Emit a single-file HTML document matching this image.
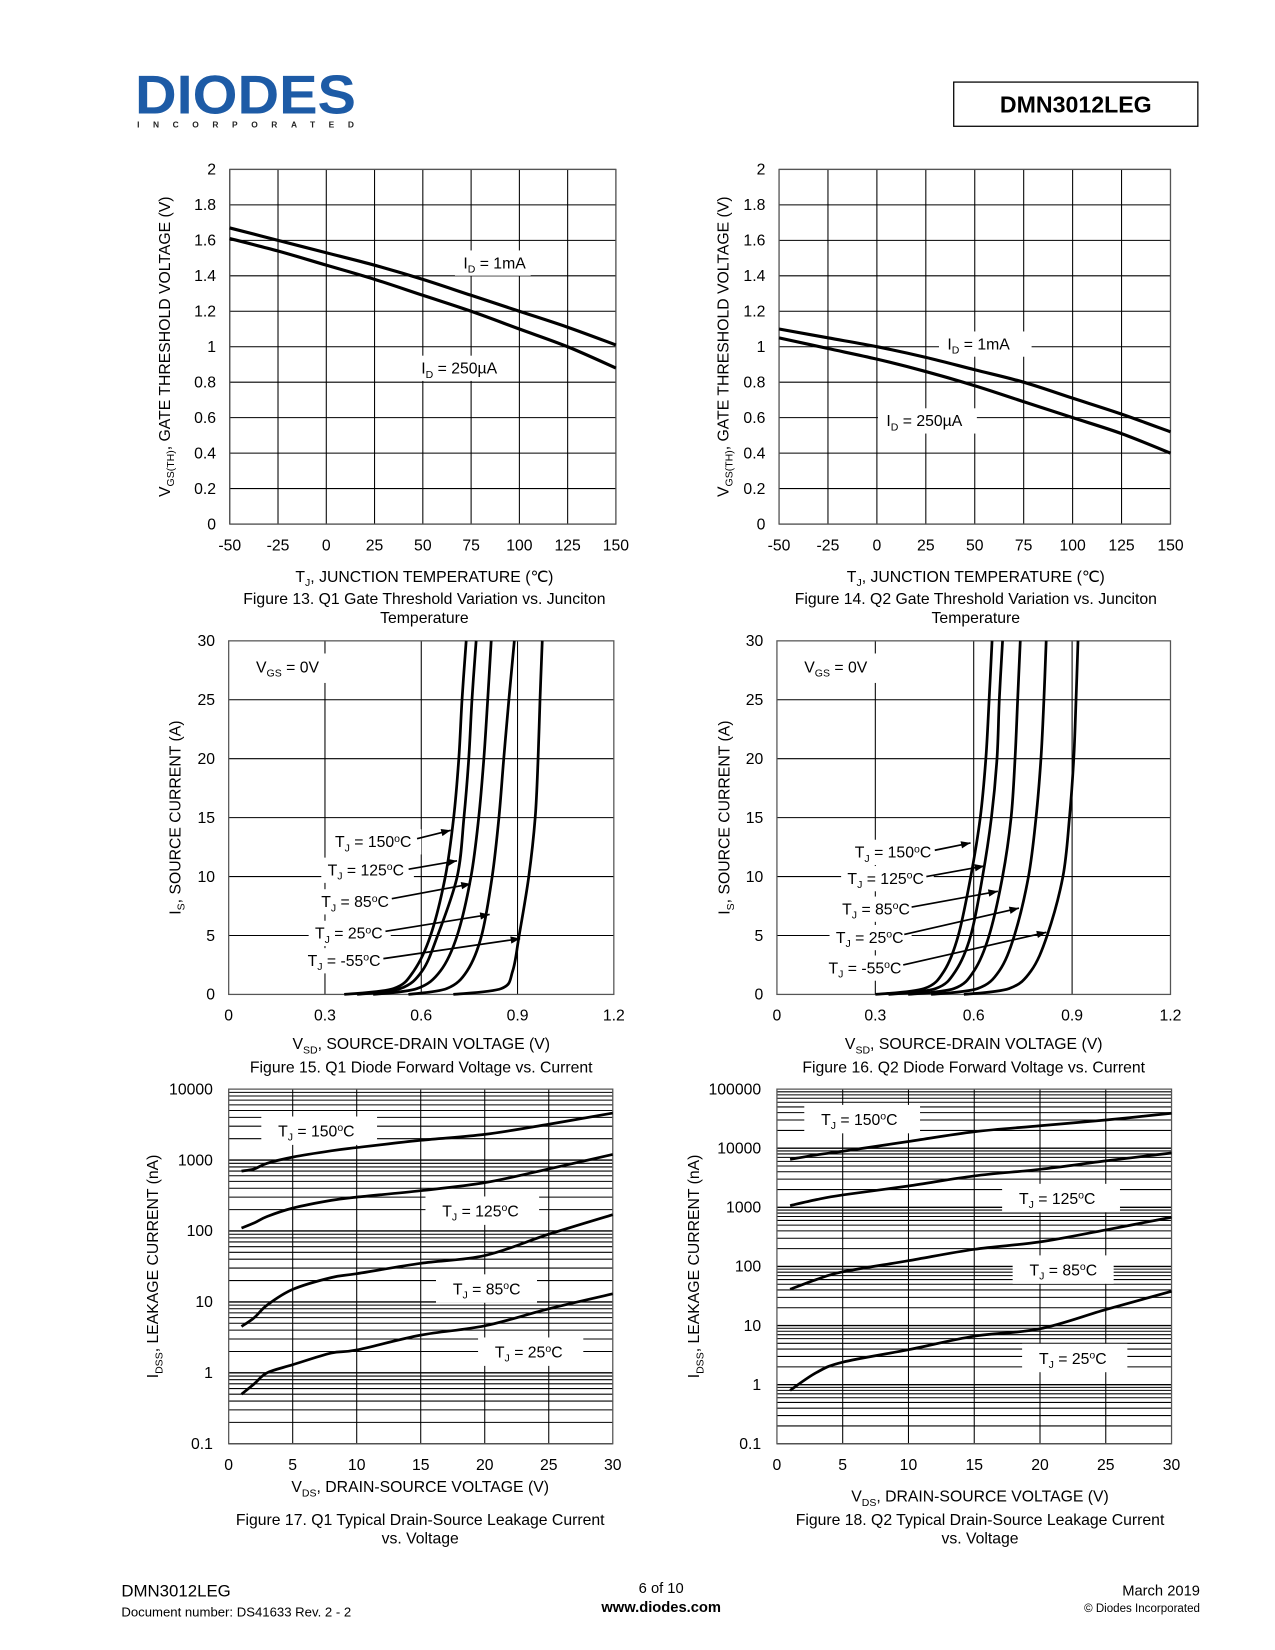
<!DOCTYPE html>
<html><head><meta charset="utf-8"><style>
html,body{margin:0;padding:0;background:#fff;}
svg{display:block;font-family:"Liberation Sans",Arial,sans-serif;}
</style></head><body>
<svg id="page" xmlns="http://www.w3.org/2000/svg" width="1275" height="1650" viewBox="0 0 1211 1568">
<rect x="0" y="0" width="1211" height="1568" fill="#fff"/>
<g>
<text x="128" y="108" font-size="52" font-weight="bold" fill="#1d5ba6" textLength="210" lengthAdjust="spacingAndGlyphs" font-family="Liberation Sans, sans-serif">DIODES</text>
<text x="130" y="121" font-size="8" font-weight="bold" fill="#222" textLength="206" lengthAdjust="spacing">INCORPORATED</text>
</g>
<g>
<rect x="906" y="78" width="232" height="42" fill="none" stroke="#000" stroke-width="1.2"/>
<text x="1022" y="107" font-size="22" font-weight="bold" text-anchor="middle">DMN3012LEG</text>
</g>
<g id="charts"></g>
<g font-size="16">
<text x="115" y="1517" font-size="16">DMN3012LEG</text>
<text x="115" y="1536" font-size="12.5">Document number: DS41633  Rev. 2 - 2</text>
<text x="628" y="1514" font-size="14" text-anchor="middle">6 of 10</text>
<text x="628" y="1532" font-size="14" font-weight="bold" text-anchor="middle">www.diodes.com</text>
<text x="1140" y="1516" font-size="14" text-anchor="end">March 2019</text>
<text x="1140" y="1532" font-size="11" text-anchor="end">© Diodes Incorporated</text>
</g>
</svg>
<script>
// ---- Figure 13 data ----
const fig13Temps = [-50,-25,0,25,50,75,100,125,150];
const fig13Vth1mA = [1.67,1.60,1.53,1.46,1.38,1.29,1.20,1.11,1.01];
const fig13Vth250uA = [1.61,1.54,1.46,1.38,1.29,1.20,1.10,1.00,0.88];
// ---- Figure 14 data ----
const fig14Temps = [-50,-25,0,25,50,75,100,125,150];
const fig14Vth1mA = [1.10,1.05,1.00,0.94,0.87,0.80,0.71,0.62,0.52];
const fig14Vth250uA = [1.05,0.99,0.93,0.86,0.78,0.69,0.60,0.51,0.40];
const tempTicks = [-50,-25,0,25,50,75,100,125,150];
const vthTicks = [0,0.2,0.4,0.6,0.8,1,1.2,1.4,1.6,1.8,2];
const vthTickLabels = ["0","0.2","0.4","0.6","0.8","1","1.2","1.4","1.6","1.8","2"];
// ---- Figure 15/16 data (V at given current levels) ----
const diodeCurrents = [0,0.5,2,5,10,15,20,25,30];
const fig15V150 = [0.36,0.514,0.577,0.629,0.675,0.701,0.717,0.727,0.74];
const fig15V125 = [0.40,0.535,0.603,0.651,0.712,0.733,0.748,0.758,0.771];
const fig15V85 = [0.45,0.587,0.66,0.712,0.755,0.779,0.795,0.807,0.818];
const fig15V25 = [0.56,0.68,0.743,0.788,0.821,0.842,0.857,0.873,0.89];
const fig15Vm55 = [0.70,0.85,0.885,0.905,0.935,0.955,0.964,0.97,0.977];
const fig16V150 = [0.30,0.449,0.51,0.553,0.591,0.62,0.637,0.647,0.656];
const fig16V125 = [0.34,0.484,0.545,0.591,0.627,0.654,0.671,0.678,0.688];
const fig16V85 = [0.40,0.54,0.601,0.647,0.688,0.714,0.726,0.734,0.742];
const fig16V25 = [0.47,0.612,0.678,0.724,0.767,0.79,0.805,0.814,0.821];
const fig16Vm55 = [0.57,0.708,0.775,0.824,0.872,0.892,0.905,0.912,0.918];
const vsdTicks = [0,0.3,0.6,0.9,1.2];
const vsdTickLabels = ["0","0.3","0.6","0.9","1.2"];
const isTicks = [0,5,10,15,20,25,30];
// ---- Figure 17/18 data ----
const fig17Vds = [1,2,3,5,8,10,15,20,25,30];
const fig17I150 = [700,750,900,1100,1350,1500,1900,2300,3200,4600];
const fig17I125 = [110,130,160,210,270,300,370,480,750,1200];
const fig17I85 = [4.5,6,9,15,22,25,35,45,90,170];
const fig17I25 = [0.5,0.7,1.0,1.3,1.9,2.1,3.4,4.6,8,13];
const fig18Vds = [1,3,5,10,15,20,25,30];
const fig18I150 = [6500,7700,8900,13000,19000,24000,30000,39000];
const fig18I125 = [1070,1350,1620,2300,3400,4400,6100,8300];
const fig18I85 = [41,60,81,125,195,260,415,680];
const fig18I25 = [0.8,1.6,2.4,3.9,6.6,8.8,18.6,38];
const vdsTicks = [0,5,10,15,20,25,30];
const fig17Decades = [0.1,1,10,100,1000,10000];
const fig17DecadeLabels = ["0.1","1","10","100","1000","10000"];
const fig18Decades = [0.1,1,10,100,1000,10000,100000];
const fig18DecadeLabels = ["0.1","1","10","100","1000","10000","100000"];

const NS="http://www.w3.org/2000/svg";
const root=document.getElementById('charts');
function mk(tag,attrs,parent){const e=document.createElementNS(NS,tag);for(const k in attrs)e.setAttribute(k,attrs[k]);(parent||root).appendChild(e);return e;}
function scaleLin(d0,d1,r0,r1){return v=>r0+(v-d0)/(d1-d0)*(r1-r0);}
function scaleLog(d0,d1,r0,r1){return v=>r0+(Math.log10(v)-Math.log10(d0))/(Math.log10(d1)-Math.log10(d0))*(r1-r0);}
function smooth(pts){let d='M'+pts[0][0].toFixed(2)+','+pts[0][1].toFixed(2);
 for(let i=0;i<pts.length-1;i++){const p0=pts[Math.max(0,i-1)],p1=pts[i],p2=pts[i+1],p3=pts[Math.min(pts.length-1,i+2)];
  const c1=[p1[0]+(p2[0]-p0[0])/6,p1[1]+(p2[1]-p0[1])/6],c2=[p2[0]-(p3[0]-p1[0])/6,p2[1]-(p3[1]-p1[1])/6];
  d+=' C'+c1[0].toFixed(2)+','+c1[1].toFixed(2)+' '+c2[0].toFixed(2)+','+c2[1].toFixed(2)+' '+p2[0].toFixed(2)+','+p2[1].toFixed(2);}
 return d;}
function richText(g,x,y,parts,opts){
 const t=mk('text',Object.assign({x:x,y:y,'font-size':15},opts||{}),g);
 parts.forEach(p=>{const s=mk('tspan',{},t);
  if(p[1]==='sub'){s.setAttribute('font-size','10');s.setAttribute('dy','4');}
  else if(p[1]==='sup'){s.setAttribute('font-size','10');s.setAttribute('dy','-5');}
  else if(p[1]==='back'){s.setAttribute('dy','-4');}
  else if(p[1]==='down'){s.setAttribute('dy','5');}
  s.textContent=p[0];});
 return t;}
function labelBox(g,x,y,w,h){return mk('rect',{x:x,y:y,width:w,height:h,fill:'#fff'},g);}

function frame(g,L,R,T,B){const r=mk('rect',{x:L,y:T,width:R-L,height:B-T,fill:'none',stroke:'#555','stroke-width':1.2},g);
 
 }

// ===== Threshold charts (13,14) =====
function thresholdChart(name,L,R,T,B,temps,s1,s2,labels,capX,cap1,ylabelX){
 const g=mk('g',{});
 
 
 const x=scaleLin(-50,150,L,R),y=scaleLin(0,2,B,T);
 tempTicks.forEach(t=>{mk('line',{x1:x(t),x2:x(t),y1:T,y2:B,stroke:'#000','stroke-width':1},g);
  const tl=mk('text',{x:x(t),y:B+25,'font-size':15,'text-anchor':'middle'},g);
  
  
  tl.textContent=String(t);});
 vthTicks.forEach((v,i)=>{mk('line',{x1:L,x2:R,y1:y(v),y2:y(v),stroke:'#000','stroke-width':1},g);
  const tl=mk('text',{x:L-13,y:y(v)+5,'font-size':15,'text-anchor':'end'},g);
  
  
  tl.textContent=vthTickLabels[i];});
 frame(g,L,R,T,B);
 labels.forEach(lb=>{labelBox(g,lb[0]-8,lb[1]-17,lb[3],24);});
 [s1,s2].forEach((s,k)=>{const p=mk('path',{d:smooth(temps.map((t,i)=>[x(t),y(s[i])])),fill:'none',stroke:'#000','stroke-width':3},g);
  
  });
 labels.forEach(lb=>{const t=richText(g,lb[0],lb[1],[['I'],['D','sub'],[lb[2],'back']]);
  
  });
 const xt=richText(g,capX,B+55,[['T'],['J','sub'],[', JUNCTION TEMPERATURE (℃)','back']],{'text-anchor':'middle'});
 
 
 const c1=mk('text',{x:capX,y:B+76,'font-size':15,'text-anchor':'middle'},g);c1.textContent=cap1;
 
 
 const c2=mk('text',{x:capX,y:B+94,'font-size':15,'text-anchor':'middle'},g);c2.textContent='Temperature';
 
 
 const yl=richText(g,0,0,[['V'],['GS(TH)','sub'],[', GATE THRESHOLD VOLTAGE (V)','back']],{'text-anchor':'middle',transform:'translate('+ylabelX+','+((T+B)/2)+') rotate(-90)'});
 
 
}
thresholdChart('figure-13-chart',218,585,161,498,fig13Temps,fig13Vth1mA,fig13Vth250uA,[[440,255,' = 1mA',72],[400,355,' = 250µA',88]],403,'Figure 13. Q1 Gate Threshold Variation vs. Junciton',161);
thresholdChart('figure-14-chart',740,1112,161,498,fig14Temps,fig14Vth1mA,fig14Vth250uA,[[900,332,' = 1mA',88],[842,405,' = 250µA',94]],927,'Figure 14. Q2 Gate Threshold Variation vs. Junciton',692);

// ===== Diode charts (15,16) =====
function diodeChart(name,L,R,T,B,series,labels,capX,cap,ylabelX){
 const g=mk('g',{});
 
 
 const x=scaleLin(0,1.2,L,R),y=scaleLin(0,30,B,T);
 vsdTicks.forEach((v,i)=>{if(i>0&&i<vsdTicks.length-1)mk('line',{x1:x(v),x2:x(v),y1:T,y2:B,stroke:'#000','stroke-width':1},g);
  const tl=mk('text',{x:x(v),y:B+25,'font-size':15,'text-anchor':'middle'},g);tl.textContent=vsdTickLabels[i];
  
  });
 isTicks.forEach(v=>{if(v>0&&v<30)mk('line',{x1:L,x2:R,y1:y(v),y2:y(v),stroke:'#000','stroke-width':1},g);
  const tl=mk('text',{x:L-13,y:y(v)+5,'font-size':15,'text-anchor':'end'},g);tl.textContent=String(v);
  
  });
 frame(g,L,R,T,B);
 labelBox(g,L+20,T+12,80,28);
 labels.forEach(lb=>labelBox(g,lb[0]-6,lb[1]-17,lb[3],24));
 const vg=richText(g,L+26,T+30,[['V'],['GS','sub'],[' = 0V','back']]);
 
 
 const names=['series-150c','series-125c','series-85c','series-25c','series-minus55c'];
 series.forEach((s,k)=>{const p=mk('path',{d:smooth(diodeCurrents.map((c,i)=>[x(s[i]),y(c)])),fill:'none',stroke:'#000','stroke-width':2.6},g);
  
  });
 labels.forEach((lb,k)=>{
  const t=richText(g,lb[0],lb[1],[['T'],['J','sub'],[' = '+lb[2],'back'],['o','sup'],['C','down']]);
  
  
  const a=lb[4];
  const ln=mk('line',{x1:a[0],y1:a[1],x2:a[2],y2:a[3],stroke:'#000','stroke-width':1.6},g);
  
  
  const ang=Math.atan2(a[3]-a[1],a[2]-a[0]),hl=9,hw=3.5;
  const bx=a[2]-hl*Math.cos(ang),by=a[3]-hl*Math.sin(ang);
  const hd=mk('polygon',{points:a[2]+','+a[3]+' '+(bx-hw*Math.sin(ang))+','+(by+hw*Math.cos(ang))+' '+(bx+hw*Math.sin(ang))+','+(by-hw*Math.cos(ang)),fill:'#000'},g);
  
  });
 const xt=richText(g,capX,B+52,[['V'],['SD','sub'],[', SOURCE-DRAIN VOLTAGE (V)','back']],{'text-anchor':'middle'});
 
 
 const c1=mk('text',{x:capX,y:B+74,'font-size':15,'text-anchor':'middle'},g);c1.textContent=cap;
 
 
 const yl=richText(g,0,0,[['I'],['S','sub'],[', SOURCE CURRENT (A)','back']],{'text-anchor':'middle',transform:'translate('+ylabelX+','+((T+B)/2)+') rotate(-90)'});
 
 
}
diodeChart('figure-15-chart',217,583,609,945,[fig15V150,fig15V125,fig15V85,fig15V25,fig15Vm55],
 [[318,805,'150',88,[396,797,428,789]],[311,832,'125',88,[388,826,434,818]],[305,862,'85',78,[372,854,447,840]],[299,892,'25',78,[366,885,465,869]],[292,918,'-55',82,[364,911,494,892]]],
 400,'Figure 15. Q1 Diode Forward Voltage vs. Current',171);
diodeChart('figure-16-chart',738,1112,609,945,[fig16V150,fig16V125,fig16V85,fig16V25,fig16Vm55],
 [[812,815,'150',88,[888,808,922,801]],[805,840,'125',88,[880,833,935,823]],[800,869,'85',78,[866,862,948,847]],[794,896,'25',78,[859,888,968,863]],[787,925,'-55',82,[858,917,994,886]]],
 925,'Figure 16. Q2 Diode Forward Voltage vs. Current',693);

// ===== Leakage charts (17,18) =====
function leakChart(name,L,R,T,B,decades,decLabels,vds,series,labels,capX,titleY,ylabelX){
 const g=mk('g',{});
 
 
 const x=scaleLin(0,30,L,R),y=scaleLog(decades[0],decades[decades.length-1],B,T);
 vdsTicks.forEach(v=>{if(v>0&&v<30)mk('line',{x1:x(v),x2:x(v),y1:T,y2:B,stroke:'#000','stroke-width':1},g);
  const tl=mk('text',{x:x(v),y:B+25,'font-size':15,'text-anchor':'middle'},g);tl.textContent=String(v);
  
  });
 decades.forEach((d,i)=>{
  if(i<decades.length-1){for(let k=1;k<=9;k++){mk('line',{x1:L,x2:R,y1:y(d*k),y2:y(d*k),stroke:'#000','stroke-width':k===1?1.3:1},g);}}
  const tl=mk('text',{x:L-15,y:y(d)+5,'font-size':15,'text-anchor':'end'},g);tl.textContent=decLabels[i];
  
  });
 frame(g,L,R,T,B);
 labels.forEach(lb=>labelBox(g,lb[0]-16,lb[1]-19,lb[3],27));
 const names=['series-150c','series-125c','series-85c','series-25c'];
 series.forEach((s,k)=>{const p=mk('path',{d:smooth(vds.map((v,i)=>[x(v),y(s[i])])),fill:'none',stroke:'#000','stroke-width':2.6},g);
  
  });
 labels.forEach(lb=>{const t=richText(g,lb[0],lb[1],[['T'],['J','sub'],[' = '+lb[2],'back'],['o','sup'],['C','down']]);
  
  });
 const xt=richText(g,capX,titleY,[['V'],['DS','sub'],[', DRAIN-SOURCE VOLTAGE (V)','back']],{'text-anchor':'middle'});
 
 
 const c1=mk('text',{x:capX,y:1449,'font-size':15,'text-anchor':'middle'},g);c1.textContent=name==='figure-17-chart'?'Figure 17. Q1 Typical Drain-Source Leakage Current':'Figure 18. Q2 Typical Drain-Source Leakage Current';
 
 
 const c2=mk('text',{x:capX,y:1467,'font-size':15,'text-anchor':'middle'},g);c2.textContent='vs. Voltage';
 
 
 const yl=richText(g,0,0,[['I'],['DSS','sub'],[', LEAKAGE CURRENT (nA)','back']],{'text-anchor':'middle',transform:'translate('+ylabelX+','+((T+B)/2)+') rotate(-90)'});
 
 
}
leakChart('figure-17-chart',217,582,1035,1372,fig17Decades,fig17DecadeLabels,fig17Vds,[fig17I150,fig17I125,fig17I85,fig17I25],
 [[264,1080,'150',110],[420,1156,'125',108],[430,1230,'85',96],[470,1290,'25',100]],399,1418,150);
leakChart('figure-18-chart',738,1113,1035,1372,fig18Decades,fig18DecadeLabels,fig18Vds,[fig18I150,fig18I125,fig18I85,fig18I25],
 [[780,1069,'150',110],[968,1144,'125',112],[978,1212,'85',96],[987,1296,'25',100]],931,1427,664);
</script>
</body></html>
